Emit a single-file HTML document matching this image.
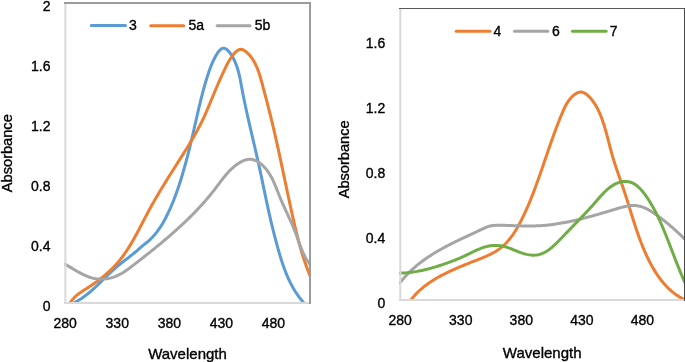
<!DOCTYPE html>
<html><head><meta charset="utf-8"><style>
html,body{margin:0;padding:0;background:#fff;width:685px;height:362px;overflow:hidden}
svg{display:block;will-change:transform}
</style></head><body>
<svg width="685" height="362" viewBox="0 0 685 362">
<defs><clipPath id="cl"><rect x="64" y="3" width="246" height="300"/></clipPath><clipPath id="cr"><rect x="399" y="8.5" width="285.5" height="291.5"/></clipPath></defs>
<rect width="685" height="362" fill="#fff"/>
<g clip-path="url(#cl)" fill="none" stroke-width="3" stroke-linejoin="round">
<path d="M71.53,304.04 L72.90,303.40 L74.25,302.73 L75.58,302.04 L76.89,301.31 L78.18,300.56 L79.45,299.78 L80.70,298.98 L81.94,298.16 L83.16,297.31 L84.36,296.44 L85.55,295.55 L86.73,294.64 L87.89,293.71 L89.04,292.76 L90.18,291.81 L91.31,290.83 L92.43,289.84 L93.54,288.84 L94.65,287.83 L95.75,286.81 L96.84,285.78 L97.92,284.75 L99.01,283.71 L100.08,282.66 L101.16,281.61 L102.23,280.55 L103.31,279.50 L104.38,278.44 L105.45,277.38 L106.53,276.33 L107.61,275.28 L108.69,274.23 L109.77,273.19 L110.86,272.15 L111.96,271.13 L113.06,270.11 L114.17,269.10 L115.29,268.10 L116.42,267.11 L117.55,266.14 L118.70,265.18 L119.86,264.24 L121.03,263.31 L122.20,262.38 L123.38,261.47 L124.57,260.56 L125.75,259.65 L126.94,258.75 L128.13,257.84 L129.31,256.93 L130.49,256.02 L131.66,255.09 L132.82,254.16 L133.98,253.22 L135.12,252.26 L136.25,251.28 L137.38,250.29 L138.50,249.30 L139.62,248.31 L140.76,247.32 L141.91,246.34 L143.08,245.38 L144.27,244.43 L145.46,243.49 L146.65,242.54 L147.82,241.57 L148.95,240.58 L150.06,239.57 L151.13,238.53 L152.18,237.46 L153.20,236.38 L154.18,235.27 L155.15,234.14 L156.08,232.99 L157.00,231.82 L157.88,230.63 L158.75,229.43 L159.59,228.20 L160.41,226.97 L161.22,225.72 L162.00,224.45 L162.76,223.17 L163.51,221.88 L164.24,220.58 L164.95,219.27 L165.65,217.95 L166.34,216.62 L167.01,215.28 L167.67,213.94 L168.32,212.59 L168.95,211.23 L169.58,209.87 L170.20,208.51 L170.80,207.14 L171.40,205.76 L171.98,204.38 L172.56,202.99 L173.13,201.60 L173.68,200.21 L174.23,198.81 L174.77,197.41 L175.30,196.00 L175.82,194.59 L176.34,193.18 L176.84,191.76 L177.34,190.34 L177.83,188.92 L178.32,187.50 L178.80,186.07 L179.27,184.64 L179.73,183.21 L180.19,181.77 L180.64,180.34 L181.09,178.90 L181.53,177.46 L181.96,176.02 L182.39,174.58 L182.82,173.14 L183.24,171.70 L183.65,170.26 L184.06,168.82 L184.47,167.37 L184.88,165.93 L185.28,164.49 L185.67,163.04 L186.06,161.60 L186.45,160.15 L186.84,158.71 L187.22,157.26 L187.60,155.81 L187.97,154.37 L188.34,152.92 L188.71,151.47 L189.07,150.02 L189.44,148.57 L189.80,147.12 L190.15,145.67 L190.50,144.21 L190.86,142.76 L191.20,141.30 L191.55,139.85 L191.89,138.39 L192.23,136.93 L192.57,135.47 L192.91,134.01 L193.25,132.55 L193.58,131.09 L193.92,129.63 L194.25,128.16 L194.58,126.70 L194.92,125.24 L195.25,123.78 L195.58,122.31 L195.91,120.85 L196.25,119.39 L196.58,117.92 L196.91,116.46 L197.25,115.00 L197.59,113.54 L197.93,112.08 L198.27,110.61 L198.61,109.15 L198.95,107.69 L199.30,106.24 L199.65,104.78 L200.00,103.32 L200.36,101.86 L200.72,100.41 L201.08,98.96 L201.44,97.50 L201.81,96.05 L202.19,94.60 L202.57,93.16 L202.95,91.71 L203.34,90.27 L203.73,88.82 L204.13,87.38 L204.53,85.94 L204.94,84.51 L205.35,83.07 L205.77,81.64 L206.20,80.21 L206.63,78.78 L207.07,77.35 L207.52,75.93 L207.98,74.51 L208.44,73.09 L208.92,71.67 L209.41,70.25 L209.92,68.83 L210.45,67.41 L211.01,65.99 L211.60,64.56 L212.21,63.12 L212.86,61.68 L213.54,60.23 L214.26,58.78 L215.02,57.31 L215.83,55.84 L216.67,54.40 L217.55,53.02 L218.47,51.75 L219.41,50.61 L220.38,49.65 L221.38,48.90 L222.39,48.40 L223.41,48.19 L224.45,48.29 L225.49,48.66 L226.53,49.30 L227.56,50.14 L228.57,51.18 L229.56,52.37 L230.51,53.67 L231.43,55.06 L232.30,56.51 L233.12,57.98 L233.88,59.44 L234.58,60.91 L235.24,62.38 L235.85,63.84 L236.42,65.31 L236.94,66.77 L237.43,68.24 L237.88,69.70 L238.30,71.16 L238.69,72.63 L239.06,74.09 L239.40,75.55 L239.72,77.01 L240.03,78.47 L240.32,79.94 L240.60,81.40 L240.87,82.86 L241.14,84.32 L241.40,85.78 L241.67,87.24 L241.94,88.70 L242.21,90.16 L242.49,91.62 L242.77,93.08 L243.06,94.54 L243.35,96.00 L243.64,97.46 L243.94,98.92 L244.24,100.38 L244.54,101.85 L244.84,103.31 L245.15,104.77 L245.46,106.23 L245.77,107.69 L246.09,109.15 L246.41,110.61 L246.73,112.07 L247.05,113.53 L247.37,114.99 L247.70,116.45 L248.03,117.91 L248.36,119.38 L248.69,120.84 L249.02,122.30 L249.35,123.76 L249.69,125.22 L250.03,126.68 L250.36,128.15 L250.70,129.61 L251.04,131.07 L251.38,132.53 L251.72,134.00 L252.06,135.46 L252.40,136.92 L252.74,138.38 L253.08,139.85 L253.43,141.31 L253.77,142.77 L254.11,144.24 L254.45,145.70 L254.79,147.16 L255.13,148.63 L255.47,150.09 L255.80,151.56 L256.14,153.02 L256.48,154.49 L256.81,155.95 L257.14,157.42 L257.48,158.89 L257.81,160.35 L258.14,161.82 L258.46,163.28 L258.79,164.75 L259.11,166.22 L259.43,167.69 L259.75,169.15 L260.07,170.62 L260.39,172.09 L260.70,173.56 L261.01,175.03 L261.32,176.49 L261.63,177.96 L261.94,179.43 L262.25,180.90 L262.56,182.37 L262.87,183.83 L263.17,185.30 L263.48,186.77 L263.79,188.24 L264.09,189.70 L264.40,191.17 L264.71,192.64 L265.01,194.10 L265.32,195.57 L265.63,197.03 L265.94,198.50 L266.25,199.96 L266.56,201.43 L266.87,202.89 L267.18,204.35 L267.50,205.81 L267.82,207.27 L268.14,208.73 L268.46,210.19 L268.78,211.65 L269.10,213.11 L269.43,214.56 L269.76,216.02 L270.10,217.47 L270.43,218.92 L270.77,220.38 L271.11,221.83 L271.46,223.28 L271.80,224.73 L272.15,226.18 L272.51,227.62 L272.86,229.07 L273.22,230.52 L273.59,231.96 L273.95,233.41 L274.32,234.86 L274.70,236.30 L275.07,237.75 L275.45,239.20 L275.84,240.64 L276.22,242.09 L276.62,243.54 L277.01,244.98 L277.41,246.43 L277.81,247.88 L278.21,249.33 L278.62,250.78 L279.04,252.23 L279.46,253.68 L279.89,255.12 L280.32,256.57 L280.76,258.01 L281.21,259.45 L281.67,260.89 L282.14,262.32 L282.61,263.75 L283.10,265.18 L283.60,266.60 L284.11,268.02 L284.63,269.43 L285.16,270.83 L285.70,272.23 L286.26,273.62 L286.83,275.01 L287.42,276.39 L288.02,277.76 L288.63,279.12 L289.26,280.48 L289.91,281.82 L290.57,283.16 L291.26,284.48 L291.96,285.80 L292.68,287.11 L293.41,288.40 L294.17,289.68 L294.95,290.95 L295.75,292.21 L296.57,293.46 L297.41,294.69 L298.27,295.91 L299.15,297.12 L300.06,298.31 L301.00,299.49 L301.95,300.65 L302.94,301.80 L303.94,302.93 L304.98,304.05" stroke="#5B9BD5"/>
<path d="M69.40,304.02 L70.21,302.67 L71.08,301.39 L72.00,300.18 L72.97,299.03 L73.98,297.93 L75.03,296.89 L76.13,295.89 L77.26,294.93 L78.41,294.01 L79.60,293.12 L80.81,292.26 L82.03,291.42 L83.28,290.59 L84.53,289.78 L85.79,288.98 L87.06,288.18 L88.32,287.37 L89.59,286.56 L90.85,285.73 L92.10,284.90 L93.34,284.05 L94.57,283.19 L95.80,282.32 L97.02,281.44 L98.23,280.54 L99.43,279.64 L100.62,278.72 L101.80,277.79 L102.97,276.84 L104.13,275.89 L105.27,274.92 L106.41,273.94 L107.53,272.94 L108.64,271.94 L109.74,270.92 L110.82,269.89 L111.89,268.84 L112.94,267.79 L113.98,266.72 L115.01,265.63 L116.01,264.54 L117.01,263.43 L117.98,262.31 L118.94,261.17 L119.88,260.02 L120.80,258.86 L121.71,257.69 L122.61,256.51 L123.49,255.31 L124.35,254.10 L125.20,252.89 L126.04,251.66 L126.87,250.42 L127.68,249.18 L128.49,247.92 L129.28,246.66 L130.06,245.39 L130.83,244.11 L131.59,242.83 L132.35,241.54 L133.10,240.24 L133.83,238.94 L134.57,237.63 L135.29,236.32 L136.01,235.00 L136.73,233.68 L137.44,232.36 L138.14,231.03 L138.85,229.70 L139.55,228.37 L140.24,227.03 L140.94,225.70 L141.63,224.36 L142.33,223.02 L143.02,221.69 L143.71,220.35 L144.41,219.01 L145.10,217.68 L145.80,216.35 L146.50,215.02 L147.20,213.69 L147.91,212.36 L148.62,211.04 L149.34,209.72 L150.06,208.41 L150.78,207.09 L151.51,205.78 L152.24,204.48 L152.98,203.17 L153.71,201.87 L154.46,200.58 L155.20,199.28 L155.95,197.99 L156.70,196.70 L157.46,195.41 L158.22,194.12 L158.98,192.84 L159.74,191.56 L160.51,190.28 L161.28,189.00 L162.05,187.72 L162.83,186.45 L163.61,185.18 L164.38,183.91 L165.17,182.64 L165.95,181.37 L166.73,180.10 L167.52,178.83 L168.31,177.57 L169.10,176.30 L169.89,175.04 L170.69,173.77 L171.48,172.51 L172.28,171.25 L173.08,169.99 L173.88,168.73 L174.67,167.47 L175.48,166.20 L176.28,164.94 L177.08,163.68 L177.88,162.42 L178.68,161.16 L179.49,159.90 L180.29,158.63 L181.09,157.37 L181.89,156.11 L182.69,154.84 L183.49,153.58 L184.29,152.31 L185.08,151.04 L185.88,149.77 L186.67,148.50 L187.46,147.22 L188.24,145.95 L189.02,144.67 L189.80,143.39 L190.57,142.11 L191.34,140.82 L192.10,139.53 L192.86,138.24 L193.61,136.95 L194.36,135.65 L195.10,134.35 L195.83,133.04 L196.56,131.73 L197.28,130.42 L197.99,129.11 L198.69,127.79 L199.39,126.46 L200.08,125.13 L200.76,123.80 L201.43,122.46 L202.09,121.12 L202.74,119.77 L203.39,118.42 L204.02,117.06 L204.64,115.70 L205.26,114.33 L205.86,112.96 L206.46,111.59 L207.06,110.21 L207.65,108.83 L208.23,107.45 L208.81,106.07 L209.39,104.68 L209.96,103.30 L210.53,101.91 L211.10,100.53 L211.67,99.14 L212.24,97.76 L212.81,96.38 L213.39,95.00 L213.96,93.62 L214.53,92.24 L215.11,90.86 L215.69,89.49 L216.27,88.11 L216.86,86.74 L217.44,85.37 L218.03,84.00 L218.63,82.64 L219.23,81.27 L219.83,79.91 L220.44,78.54 L221.05,77.18 L221.66,75.83 L222.28,74.47 L222.91,73.12 L223.54,71.76 L224.18,70.41 L224.83,69.06 L225.48,67.72 L226.13,66.37 L226.80,65.03 L227.49,63.68 L228.22,62.33 L228.98,60.97 L229.80,59.60 L230.67,58.22 L231.62,56.82 L232.64,55.42 L233.72,54.07 L234.85,52.81 L236.02,51.68 L237.23,50.73 L238.46,49.99 L239.71,49.51 L240.97,49.34 L242.22,49.51 L243.46,50.00 L244.66,50.72 L245.83,51.60 L246.95,52.55 L248.01,53.54 L249.02,54.58 L249.98,55.67 L250.90,56.79 L251.76,57.95 L252.59,59.14 L253.37,60.37 L254.11,61.63 L254.81,62.92 L255.48,64.24 L256.12,65.59 L256.72,66.95 L257.30,68.34 L257.85,69.75 L258.37,71.17 L258.87,72.61 L259.36,74.07 L259.82,75.53 L260.27,77.01 L260.71,78.49 L261.13,79.97 L261.54,81.46 L261.95,82.95 L262.35,84.43 L262.75,85.92 L263.15,87.39 L263.54,88.87 L263.93,90.34 L264.32,91.81 L264.71,93.27 L265.10,94.73 L265.48,96.19 L265.86,97.65 L266.24,99.10 L266.62,100.55 L267.00,102.00 L267.37,103.44 L267.74,104.89 L268.11,106.33 L268.48,107.77 L268.85,109.21 L269.21,110.65 L269.57,112.09 L269.93,113.53 L270.29,114.97 L270.65,116.41 L271.00,117.85 L271.35,119.29 L271.70,120.73 L272.05,122.17 L272.40,123.61 L272.74,125.06 L273.09,126.50 L273.43,127.95 L273.77,129.39 L274.10,130.84 L274.44,132.29 L274.77,133.74 L275.11,135.19 L275.44,136.65 L275.77,138.10 L276.10,139.55 L276.43,141.01 L276.75,142.46 L277.08,143.92 L277.40,145.38 L277.72,146.84 L278.04,148.30 L278.36,149.76 L278.68,151.22 L279.00,152.68 L279.32,154.14 L279.64,155.61 L279.95,157.07 L280.27,158.53 L280.58,160.00 L280.90,161.46 L281.21,162.93 L281.52,164.39 L281.84,165.86 L282.15,167.33 L282.46,168.79 L282.77,170.26 L283.08,171.73 L283.39,173.20 L283.70,174.67 L284.01,176.13 L284.32,177.60 L284.63,179.07 L284.94,180.54 L285.26,182.01 L285.57,183.48 L285.88,184.95 L286.19,186.42 L286.50,187.88 L286.81,189.35 L287.12,190.82 L287.43,192.29 L287.75,193.76 L288.06,195.23 L288.37,196.69 L288.69,198.16 L289.00,199.63 L289.32,201.10 L289.64,202.56 L289.95,204.03 L290.27,205.49 L290.59,206.96 L290.91,208.42 L291.23,209.89 L291.56,211.35 L291.88,212.82 L292.20,214.28 L292.53,215.74 L292.86,217.20 L293.19,218.66 L293.52,220.12 L293.85,221.58 L294.18,223.04 L294.52,224.50 L294.85,225.95 L295.20,227.41 L295.54,228.86 L295.89,230.32 L296.24,231.77 L296.59,233.22 L296.95,234.67 L297.31,236.12 L297.68,237.56 L298.05,239.01 L298.42,240.45 L298.81,241.89 L299.19,243.34 L299.59,244.77 L299.98,246.21 L300.39,247.65 L300.80,249.08 L301.22,250.51 L301.64,251.94 L302.07,253.37 L302.51,254.79 L302.96,256.22 L303.42,257.64 L303.88,259.06 L304.35,260.47 L304.83,261.89 L305.32,263.30 L305.82,264.71 L306.33,266.12 L306.84,267.52 L307.37,268.92 L307.91,270.32 L308.46,271.72 L309.02,273.11 L309.58,274.50 L310.17,275.89 L310.76,277.27 L311.36,278.65 L311.98,280.03" stroke="#ED7D31"/>
<path d="M64.08,263.68 L65.37,264.38 L66.66,265.11 L67.95,265.84 L69.24,266.60 L70.52,267.36 L71.81,268.13 L73.10,268.91 L74.39,269.68 L75.69,270.45 L76.99,271.20 L78.30,271.95 L79.61,272.68 L80.93,273.39 L82.26,274.07 L83.61,274.73 L84.96,275.35 L86.32,275.94 L87.70,276.49 L89.10,276.99 L90.51,277.45 L91.93,277.86 L93.38,278.21 L94.84,278.50 L96.32,278.74 L97.81,278.90 L99.32,279.01 L100.84,279.06 L102.37,279.05 L103.89,278.97 L105.41,278.84 L106.93,278.65 L108.43,278.40 L109.93,278.10 L111.40,277.74 L112.85,277.32 L114.28,276.85 L115.68,276.33 L117.05,275.75 L118.40,275.13 L119.72,274.46 L121.02,273.75 L122.30,273.01 L123.57,272.23 L124.81,271.42 L126.04,270.59 L127.26,269.73 L128.47,268.86 L129.67,267.97 L130.87,267.07 L132.06,266.16 L133.24,265.24 L134.43,264.32 L135.62,263.41 L136.80,262.49 L137.99,261.57 L139.17,260.65 L140.35,259.73 L141.53,258.81 L142.71,257.88 L143.89,256.96 L145.07,256.03 L146.24,255.10 L147.42,254.17 L148.59,253.24 L149.76,252.31 L150.94,251.37 L152.10,250.44 L153.27,249.50 L154.44,248.56 L155.60,247.61 L156.76,246.67 L157.92,245.72 L159.07,244.77 L160.23,243.82 L161.38,242.86 L162.53,241.90 L163.68,240.94 L164.82,239.98 L165.96,239.01 L167.10,238.04 L168.24,237.07 L169.37,236.10 L170.50,235.12 L171.63,234.14 L172.75,233.15 L173.87,232.16 L174.99,231.17 L176.10,230.17 L177.21,229.17 L178.32,228.17 L179.42,227.16 L180.52,226.15 L181.62,225.14 L182.71,224.12 L183.80,223.09 L184.88,222.07 L185.96,221.03 L187.03,220.00 L188.11,218.96 L189.17,217.91 L190.23,216.86 L191.29,215.81 L192.35,214.75 L193.39,213.68 L194.44,212.61 L195.48,211.54 L196.51,210.46 L197.54,209.37 L198.56,208.28 L199.58,207.19 L200.60,206.09 L201.60,204.98 L202.61,203.87 L203.60,202.75 L204.60,201.63 L205.58,200.50 L206.56,199.36 L207.54,198.22 L208.51,197.08 L209.47,195.92 L210.42,194.76 L211.38,193.60 L212.32,192.42 L213.26,191.24 L214.19,190.06 L215.12,188.87 L216.03,187.67 L216.95,186.46 L217.86,185.26 L218.77,184.05 L219.67,182.84 L220.59,181.63 L221.50,180.43 L222.42,179.23 L223.35,178.05 L224.29,176.87 L225.25,175.71 L226.21,174.56 L227.20,173.43 L228.20,172.32 L229.22,171.22 L230.26,170.15 L231.33,169.11 L232.43,168.09 L233.55,167.10 L234.70,166.15 L235.88,165.22 L237.10,164.33 L238.35,163.48 L239.64,162.67 L240.96,161.92 L242.30,161.24 L243.66,160.64 L245.04,160.14 L246.43,159.74 L247.82,159.47 L249.21,159.33 L250.59,159.34 L251.97,159.50 L253.33,159.80 L254.67,160.23 L255.99,160.78 L257.28,161.44 L258.55,162.20 L259.78,163.05 L260.98,163.97 L262.14,164.96 L263.25,166.01 L264.32,167.11 L265.34,168.24 L266.31,169.40 L267.23,170.60 L268.11,171.82 L268.95,173.07 L269.76,174.35 L270.52,175.65 L271.26,176.97 L271.96,178.31 L272.64,179.67 L273.29,181.04 L273.93,182.42 L274.54,183.82 L275.14,185.22 L275.72,186.63 L276.29,188.05 L276.86,189.47 L277.42,190.90 L277.98,192.32 L278.54,193.74 L279.10,195.15 L279.66,196.56 L280.24,197.96 L280.82,199.35 L281.41,200.74 L282.01,202.11 L282.62,203.49 L283.23,204.85 L283.84,206.21 L284.45,207.57 L285.07,208.92 L285.69,210.27 L286.32,211.62 L286.94,212.97 L287.56,214.31 L288.18,215.66 L288.80,217.01 L289.42,218.35 L290.03,219.70 L290.63,221.05 L291.24,222.40 L291.83,223.76 L292.42,225.12 L293.00,226.49 L293.58,227.86 L294.14,229.24 L294.69,230.62 L295.24,232.02 L295.77,233.42 L296.29,234.82 L296.80,236.24 L297.31,237.65 L297.82,239.08 L298.32,240.50 L298.83,241.92 L299.34,243.34 L299.86,244.76 L300.38,246.17 L300.92,247.58 L301.48,248.98 L302.05,250.37 L302.64,251.74 L303.25,253.11 L303.88,254.47 L304.55,255.80 L305.24,257.13 L305.96,258.43 L306.72,259.72 L307.51,260.98 L308.35,262.22 L309.22,263.44 L310.14,264.63 L311.10,265.79 L312.12,266.93" stroke="#A5A5A5"/>
</g>
<g clip-path="url(#cr)" fill="none" stroke-width="3" stroke-linejoin="round">
<path d="M409.86,301.42 L410.74,300.20 L411.65,299.00 L412.58,297.83 L413.54,296.68 L414.52,295.55 L415.53,294.45 L416.56,293.37 L417.61,292.32 L418.69,291.28 L419.78,290.27 L420.89,289.28 L422.03,288.30 L423.18,287.35 L424.34,286.42 L425.53,285.51 L426.73,284.61 L427.95,283.73 L429.18,282.88 L430.42,282.03 L431.68,281.21 L432.95,280.40 L434.22,279.61 L435.51,278.83 L436.81,278.07 L438.12,277.32 L439.44,276.59 L440.76,275.87 L442.09,275.16 L443.43,274.47 L444.77,273.79 L446.12,273.12 L447.47,272.46 L448.82,271.81 L450.17,271.17 L451.53,270.55 L452.88,269.93 L454.24,269.32 L455.59,268.72 L456.95,268.13 L458.31,267.54 L459.68,266.96 L461.04,266.39 L462.41,265.82 L463.78,265.26 L465.15,264.70 L466.53,264.14 L467.91,263.59 L469.30,263.03 L470.69,262.48 L472.08,261.94 L473.48,261.39 L474.88,260.84 L476.29,260.29 L477.71,259.73 L479.12,259.18 L480.53,258.61 L481.94,258.04 L483.35,257.46 L484.75,256.86 L486.15,256.26 L487.53,255.63 L488.90,254.99 L490.26,254.33 L491.60,253.65 L492.93,252.95 L494.23,252.22 L495.51,251.46 L496.78,250.68 L498.01,249.86 L499.22,249.01 L500.40,248.13 L501.55,247.22 L502.67,246.27 L503.76,245.29 L504.83,244.28 L505.87,243.24 L506.88,242.18 L507.87,241.08 L508.83,239.96 L509.77,238.82 L510.69,237.65 L511.59,236.46 L512.46,235.26 L513.32,234.03 L514.15,232.78 L514.97,231.52 L515.77,230.25 L516.55,228.96 L517.32,227.65 L518.07,226.34 L518.81,225.01 L519.53,223.68 L520.24,222.34 L520.94,220.99 L521.62,219.64 L522.30,218.29 L522.97,216.93 L523.62,215.57 L524.27,214.21 L524.90,212.84 L525.53,211.47 L526.15,210.10 L526.76,208.73 L527.37,207.35 L527.96,205.98 L528.55,204.60 L529.13,203.21 L529.70,201.83 L530.27,200.44 L530.83,199.06 L531.39,197.67 L531.94,196.28 L532.48,194.89 L533.02,193.49 L533.56,192.10 L534.09,190.70 L534.61,189.31 L535.14,187.91 L535.66,186.51 L536.17,185.11 L536.68,183.71 L537.19,182.31 L537.70,180.90 L538.20,179.50 L538.70,178.10 L539.20,176.69 L539.69,175.28 L540.19,173.88 L540.68,172.47 L541.17,171.06 L541.66,169.65 L542.14,168.25 L542.63,166.84 L543.12,165.43 L543.60,164.01 L544.08,162.60 L544.57,161.19 L545.05,159.78 L545.53,158.37 L546.02,156.96 L546.50,155.54 L546.99,154.13 L547.47,152.72 L547.96,151.30 L548.44,149.89 L548.93,148.48 L549.42,147.06 L549.91,145.65 L550.41,144.24 L550.90,142.82 L551.40,141.41 L551.90,140.00 L552.40,138.58 L552.91,137.17 L553.42,135.76 L553.93,134.35 L554.45,132.93 L554.96,131.52 L555.49,130.11 L556.01,128.70 L556.54,127.29 L557.08,125.88 L557.61,124.47 L558.16,123.06 L558.71,121.65 L559.26,120.24 L559.82,118.84 L560.38,117.43 L560.95,116.02 L561.53,114.62 L562.11,113.21 L562.70,111.81 L563.30,110.42 L563.93,109.03 L564.57,107.66 L565.25,106.30 L565.96,104.96 L566.72,103.65 L567.51,102.36 L568.36,101.09 L569.26,99.87 L570.23,98.67 L571.25,97.52 L572.35,96.41 L573.51,95.37 L574.71,94.43 L575.95,93.60 L577.21,92.92 L578.49,92.42 L579.77,92.12 L581.05,92.04 L582.30,92.20 L583.54,92.58 L584.75,93.15 L585.93,93.89 L587.08,94.77 L588.19,95.76 L589.27,96.83 L590.31,97.95 L591.30,99.12 L592.26,100.31 L593.17,101.53 L594.04,102.79 L594.88,104.06 L595.68,105.36 L596.45,106.68 L597.18,108.03 L597.88,109.39 L598.56,110.76 L599.20,112.15 L599.82,113.56 L600.42,114.97 L600.99,116.39 L601.54,117.82 L602.06,119.26 L602.57,120.70 L603.07,122.14 L603.54,123.58 L604.00,125.02 L604.45,126.46 L604.89,127.90 L605.31,129.34 L605.72,130.78 L606.13,132.21 L606.52,133.65 L606.91,135.09 L607.30,136.53 L607.67,137.96 L608.05,139.40 L608.42,140.83 L608.79,142.27 L609.16,143.70 L609.53,145.14 L609.90,146.57 L610.27,148.00 L610.65,149.43 L611.03,150.86 L611.42,152.29 L611.81,153.72 L612.22,155.15 L612.63,156.58 L613.05,158.01 L613.48,159.44 L613.93,160.87 L614.37,162.29 L614.83,163.72 L615.29,165.14 L615.76,166.57 L616.24,167.99 L616.72,169.42 L617.21,170.84 L617.69,172.26 L618.19,173.69 L618.68,175.11 L619.18,176.53 L619.67,177.96 L620.17,179.38 L620.67,180.81 L621.16,182.23 L621.66,183.65 L622.15,185.08 L622.64,186.50 L623.13,187.93 L623.61,189.35 L624.09,190.78 L624.56,192.20 L625.03,193.63 L625.49,195.06 L625.95,196.48 L626.40,197.91 L626.86,199.34 L627.31,200.77 L627.75,202.19 L628.20,203.62 L628.64,205.05 L629.09,206.47 L629.53,207.90 L629.97,209.33 L630.41,210.75 L630.85,212.18 L631.29,213.60 L631.74,215.02 L632.18,216.45 L632.62,217.87 L633.07,219.29 L633.52,220.71 L633.97,222.12 L634.43,223.54 L634.89,224.96 L635.35,226.37 L635.82,227.79 L636.29,229.20 L636.77,230.61 L637.25,232.02 L637.74,233.42 L638.23,234.83 L638.73,236.23 L639.24,237.63 L639.76,239.03 L640.28,240.43 L640.81,241.82 L641.35,243.22 L641.89,244.61 L642.45,246.00 L643.02,247.38 L643.59,248.77 L644.18,250.15 L644.77,251.52 L645.38,252.90 L646.00,254.27 L646.63,255.64 L647.27,257.01 L647.92,258.37 L648.59,259.73 L649.27,261.09 L649.96,262.44 L650.67,263.78 L651.39,265.11 L652.13,266.44 L652.88,267.76 L653.64,269.07 L654.42,270.37 L655.22,271.66 L656.03,272.94 L656.86,274.20 L657.70,275.45 L658.57,276.68 L659.44,277.90 L660.34,279.11 L661.25,280.30 L662.19,281.47 L663.14,282.62 L664.11,283.75 L665.10,284.86 L666.10,285.95 L667.13,287.02 L668.18,288.07 L669.25,289.09 L670.34,290.09 L671.45,291.07 L672.58,292.02 L673.73,292.94 L674.91,293.84 L676.11,294.71 L677.33,295.54 L678.57,296.35 L679.84,297.13 L681.13,297.88 L682.45,298.59 L683.78,299.28 L685.15,299.93 L686.54,300.54 L687.95,301.12" stroke="#ED7D31"/>
<path d="M399.06,284.10 L399.98,282.87 L400.91,281.67 L401.86,280.48 L402.82,279.31 L403.80,278.16 L404.80,277.03 L405.80,275.91 L406.83,274.82 L407.87,273.73 L408.92,272.67 L409.98,271.62 L411.06,270.58 L412.15,269.57 L413.26,268.56 L414.38,267.57 L415.51,266.60 L416.65,265.64 L417.80,264.70 L418.96,263.77 L420.13,262.85 L421.32,261.94 L422.51,261.05 L423.72,260.17 L424.93,259.31 L426.15,258.45 L427.38,257.61 L428.62,256.78 L429.87,255.96 L431.13,255.15 L432.39,254.35 L433.66,253.56 L434.94,252.78 L436.23,252.01 L437.52,251.25 L438.81,250.50 L440.12,249.75 L441.42,249.02 L442.74,248.30 L444.05,247.58 L445.38,246.87 L446.70,246.16 L448.03,245.47 L449.36,244.78 L450.70,244.10 L452.04,243.42 L453.38,242.75 L454.73,242.08 L456.07,241.42 L457.42,240.77 L458.77,240.12 L460.12,239.47 L461.47,238.83 L462.82,238.19 L464.17,237.56 L465.52,236.93 L466.87,236.30 L468.22,235.67 L469.56,235.04 L470.91,234.42 L472.27,233.79 L473.62,233.16 L474.97,232.53 L476.32,231.90 L477.68,231.26 L479.04,230.62 L480.40,229.97 L481.76,229.31 L483.13,228.66 L484.50,228.02 L485.88,227.43 L487.28,226.89 L488.68,226.42 L490.11,226.05 L491.54,225.75 L492.99,225.53 L494.45,225.38 L495.92,225.28 L497.40,225.23 L498.89,225.21 L500.38,225.22 L501.87,225.26 L503.37,225.30 L504.87,225.35 L506.38,225.40 L507.88,225.45 L509.38,225.51 L510.89,225.56 L512.39,225.62 L513.90,225.67 L515.41,225.73 L516.92,225.78 L518.43,225.83 L519.94,225.87 L521.44,225.91 L522.95,225.95 L524.46,225.97 L525.97,225.99 L527.47,226.01 L528.98,226.01 L530.48,226.01 L531.99,225.99 L533.49,225.96 L534.99,225.93 L536.49,225.87 L537.99,225.81 L539.48,225.73 L540.97,225.64 L542.47,225.54 L543.95,225.42 L545.44,225.29 L546.93,225.15 L548.41,224.99 L549.90,224.82 L551.38,224.65 L552.86,224.46 L554.33,224.26 L555.81,224.04 L557.28,223.82 L558.76,223.59 L560.23,223.35 L561.70,223.09 L563.17,222.83 L564.64,222.56 L566.10,222.28 L567.57,221.99 L569.03,221.69 L570.49,221.39 L571.95,221.07 L573.41,220.75 L574.87,220.42 L576.33,220.08 L577.79,219.74 L579.24,219.39 L580.70,219.03 L582.15,218.67 L583.61,218.30 L585.06,217.92 L586.51,217.54 L587.96,217.16 L589.41,216.76 L590.86,216.37 L592.31,215.97 L593.76,215.56 L595.20,215.15 L596.65,214.74 L598.10,214.33 L599.54,213.91 L600.99,213.49 L602.43,213.06 L603.88,212.63 L605.32,212.20 L606.76,211.77 L608.21,211.34 L609.65,210.90 L611.09,210.47 L612.53,210.03 L613.98,209.59 L615.42,209.16 L616.86,208.72 L618.30,208.29 L619.74,207.87 L621.18,207.47 L622.62,207.09 L624.06,206.74 L625.50,206.42 L626.94,206.14 L628.38,205.91 L629.82,205.72 L631.25,205.59 L632.69,205.52 L634.12,205.51 L635.55,205.57 L636.98,205.71 L638.41,205.93 L639.84,206.24 L641.27,206.64 L642.69,207.11 L644.11,207.67 L645.52,208.29 L646.92,208.97 L648.31,209.70 L649.68,210.48 L651.05,211.30 L652.39,212.15 L653.72,213.02 L655.03,213.91 L656.32,214.81 L657.58,215.71 L658.82,216.61 L660.05,217.52 L661.25,218.42 L662.43,219.33 L663.60,220.25 L664.75,221.17 L665.89,222.09 L667.02,223.02 L668.14,223.95 L669.25,224.89 L670.35,225.83 L671.44,226.78 L672.53,227.74 L673.61,228.71 L674.70,229.68 L675.78,230.66 L676.87,231.65 L677.95,232.65 L679.04,233.65 L680.14,234.67 L681.24,235.70 L682.36,236.74 L683.48,237.79 L684.61,238.85 L685.75,239.92 L686.91,241.00 L688.09,242.10" stroke="#A5A5A5"/>
<path d="M398.02,273.15 L399.51,273.15 L400.99,273.12 L402.48,273.07 L403.97,273.00 L405.46,272.90 L406.94,272.78 L408.43,272.64 L409.91,272.48 L411.39,272.30 L412.87,272.09 L414.35,271.87 L415.83,271.63 L417.30,271.37 L418.78,271.09 L420.25,270.80 L421.72,270.49 L423.18,270.17 L424.65,269.83 L426.11,269.47 L427.56,269.10 L429.02,268.72 L430.47,268.33 L431.91,267.92 L433.36,267.51 L434.80,267.08 L436.23,266.65 L437.66,266.20 L439.09,265.75 L440.51,265.29 L441.93,264.82 L443.34,264.34 L444.74,263.86 L446.15,263.38 L447.54,262.88 L448.94,262.38 L450.33,261.87 L451.71,261.36 L453.09,260.83 L454.47,260.29 L455.85,259.74 L457.23,259.18 L458.60,258.61 L459.97,258.02 L461.35,257.42 L462.72,256.81 L464.09,256.18 L465.46,255.53 L466.83,254.87 L468.20,254.20 L469.58,253.53 L470.95,252.85 L472.33,252.18 L473.71,251.51 L475.10,250.86 L476.48,250.22 L477.87,249.61 L479.27,249.01 L480.66,248.45 L482.06,247.92 L483.47,247.43 L484.88,246.99 L486.30,246.59 L487.73,246.24 L489.16,245.95 L490.60,245.72 L492.04,245.55 L493.49,245.44 L494.94,245.39 L496.39,245.41 L497.85,245.48 L499.30,245.62 L500.75,245.81 L502.20,246.06 L503.64,246.37 L505.08,246.74 L506.51,247.16 L507.93,247.63 L509.35,248.14 L510.77,248.68 L512.18,249.24 L513.60,249.82 L515.02,250.40 L516.45,250.98 L517.88,251.56 L519.32,252.11 L520.77,252.64 L522.23,253.13 L523.70,253.59 L525.19,253.99 L526.67,254.35 L528.16,254.65 L529.65,254.88 L531.13,255.05 L532.60,255.15 L534.05,255.17 L535.49,255.10 L536.90,254.95 L538.29,254.71 L539.65,254.39 L540.99,253.97 L542.30,253.48 L543.59,252.91 L544.86,252.27 L546.11,251.57 L547.33,250.80 L548.54,249.98 L549.74,249.10 L550.91,248.18 L552.08,247.22 L553.22,246.22 L554.36,245.19 L555.48,244.13 L556.60,243.04 L557.70,241.94 L558.80,240.82 L559.88,239.69 L560.97,238.56 L562.05,237.43 L563.12,236.31 L564.19,235.19 L565.26,234.08 L566.32,232.97 L567.39,231.87 L568.44,230.78 L569.50,229.69 L570.55,228.61 L571.60,227.53 L572.65,226.46 L573.69,225.38 L574.73,224.32 L575.77,223.25 L576.80,222.19 L577.83,221.12 L578.86,220.06 L579.89,219.00 L580.91,217.94 L581.92,216.88 L582.94,215.82 L583.95,214.76 L584.96,213.69 L585.96,212.62 L586.96,211.55 L587.96,210.48 L588.95,209.40 L589.94,208.32 L590.93,207.23 L591.92,206.14 L592.90,205.05 L593.87,203.94 L594.85,202.83 L595.82,201.72 L596.78,200.60 L597.76,199.47 L598.73,198.35 L599.72,197.23 L600.71,196.11 L601.73,195.01 L602.75,193.91 L603.80,192.83 L604.88,191.76 L605.98,190.72 L607.11,189.69 L608.27,188.70 L609.46,187.73 L610.68,186.81 L611.93,185.94 L613.20,185.13 L614.50,184.38 L615.82,183.70 L617.17,183.09 L618.54,182.57 L619.93,182.15 L621.34,181.82 L622.77,181.59 L624.20,181.46 L625.64,181.44 L627.06,181.53 L628.46,181.73 L629.84,182.03 L631.18,182.45 L632.49,182.98 L633.75,183.61 L634.98,184.34 L636.16,185.16 L637.32,186.06 L638.43,187.04 L639.52,188.07 L640.57,189.17 L641.60,190.31 L642.59,191.50 L643.56,192.71 L644.50,193.95 L645.42,195.21 L646.31,196.47 L647.19,197.74 L648.04,199.02 L648.87,200.29 L649.68,201.58 L650.48,202.86 L651.25,204.15 L652.01,205.45 L652.76,206.75 L653.48,208.05 L654.19,209.36 L654.89,210.67 L655.58,211.99 L656.25,213.31 L656.91,214.63 L657.56,215.96 L658.20,217.30 L658.82,218.63 L659.44,219.98 L660.05,221.32 L660.66,222.67 L661.26,224.03 L661.85,225.39 L662.43,226.75 L663.01,228.12 L663.59,229.49 L664.16,230.87 L664.72,232.25 L665.29,233.63 L665.84,235.01 L666.40,236.40 L666.95,237.79 L667.50,239.18 L668.05,240.57 L668.59,241.97 L669.13,243.37 L669.67,244.76 L670.21,246.16 L670.75,247.56 L671.29,248.97 L671.83,250.37 L672.36,251.77 L672.90,253.17 L673.44,254.57 L673.98,255.98 L674.52,257.38 L675.06,258.78 L675.60,260.18 L676.15,261.58 L676.70,262.97 L677.25,264.37 L677.80,265.76 L678.36,267.15 L678.92,268.54 L679.48,269.93 L680.05,271.31 L680.62,272.69 L681.20,274.07 L681.79,275.45 L682.37,276.82 L682.97,278.19 L683.57,279.55 L684.18,280.91 L684.79,282.26 L685.41,283.61 L686.04,284.96" stroke="#70AD47"/>
</g>
<line x1="65.4" y1="2" x2="65.4" y2="304" stroke="#d9d9d9" stroke-width="2"/>
<line x1="64" y1="303" x2="311" y2="303" stroke="#d9d9d9" stroke-width="2"/>
<line x1="64" y1="3" x2="311" y2="3" stroke="#9b9b9b" stroke-width="2"/>
<line x1="310" y1="2" x2="310" y2="304" stroke="#9b9b9b" stroke-width="2"/>
<line x1="400.3" y1="8" x2="400.3" y2="301" stroke="#d9d9d9" stroke-width="2"/>
<line x1="399" y1="300" x2="685" y2="300" stroke="#d9d9d9" stroke-width="2"/>
<line x1="399" y1="8.5" x2="685" y2="8.5" stroke="#595959" stroke-width="1"/>
<line x1="684.5" y1="8" x2="684.5" y2="301" stroke="#474747" stroke-width="1"/>
<g stroke-width="3" stroke-linecap="round">
<line x1="91.3" y1="25.6" x2="125.5" y2="25.6" stroke="#5B9BD5"/>
<line x1="150.7" y1="25.7" x2="183.7" y2="25.7" stroke="#ED7D31"/>
<line x1="217.1" y1="25.7" x2="250.1" y2="25.7" stroke="#A5A5A5"/>
<line x1="456.2" y1="31.2" x2="490" y2="31.2" stroke="#ED7D31"/>
<line x1="514.5" y1="31.2" x2="547.8" y2="31.2" stroke="#A5A5A5"/>
<line x1="572.4" y1="31.2" x2="606.1" y2="31.2" stroke="#70AD47"/>
</g>
<g font-family="&quot;Liberation Sans&quot;, sans-serif" font-size="14" fill="#000" stroke="#000" stroke-width="0.35">
<text x="50.5" y="310.8" text-anchor="end" >0</text>
<text x="50.5" y="250.8" text-anchor="end" >0.4</text>
<text x="50.5" y="190.8" text-anchor="end" >0.8</text>
<text x="50.5" y="130.8" text-anchor="end" >1.2</text>
<text x="50.5" y="70.8" text-anchor="end" >1.6</text>
<text x="50.5" y="10.8" text-anchor="end" >2</text>
<text x="385.2" y="307.8" text-anchor="end" >0</text>
<text x="385.2" y="242.8" text-anchor="end" >0.4</text>
<text x="385.2" y="177.8" text-anchor="end" >0.8</text>
<text x="385.2" y="112.8" text-anchor="end" >1.2</text>
<text x="385.2" y="47.8" text-anchor="end" >1.6</text>
<text x="65.2" y="328.3" text-anchor="middle" >280</text>
<text x="400.2" y="325" text-anchor="middle" >280</text>
<text x="117.27000000000001" y="328.3" text-anchor="middle" >330</text>
<text x="460.75" y="325" text-anchor="middle" >330</text>
<text x="169.34" y="328.3" text-anchor="middle" >380</text>
<text x="521.3" y="325" text-anchor="middle" >380</text>
<text x="221.41000000000003" y="328.3" text-anchor="middle" >430</text>
<text x="581.8499999999999" y="325" text-anchor="middle" >430</text>
<text x="273.48" y="328.3" text-anchor="middle" >480</text>
<text x="642.4" y="325" text-anchor="middle" >480</text>
<text x="128.9" y="30.1" text-anchor="start" >3</text>
<text x="188.4" y="30.2" text-anchor="start" >5a</text>
<text x="254.8" y="30.2" text-anchor="start" >5b</text>
<text x="493.4" y="35.5" text-anchor="start" >4</text>
<text x="551.9" y="35.5" text-anchor="start" >6</text>
<text x="609.6999999999999" y="35.5" text-anchor="start" >7</text>
<text x="187.5" y="358.6" text-anchor="middle" font-size="15">Wavelength</text>
<text x="542.2" y="358.1" text-anchor="middle" font-size="15">Wavelength</text>
<text x="0" y="0" text-anchor="middle" font-size="14.6" transform="translate(12.4,153.2) rotate(-90)">Absorbance</text>
<text x="0" y="0" text-anchor="middle" font-size="14.6" transform="translate(349.3,159.4) rotate(-90)">Absorbance</text>
</g>
</svg>
</body></html>
